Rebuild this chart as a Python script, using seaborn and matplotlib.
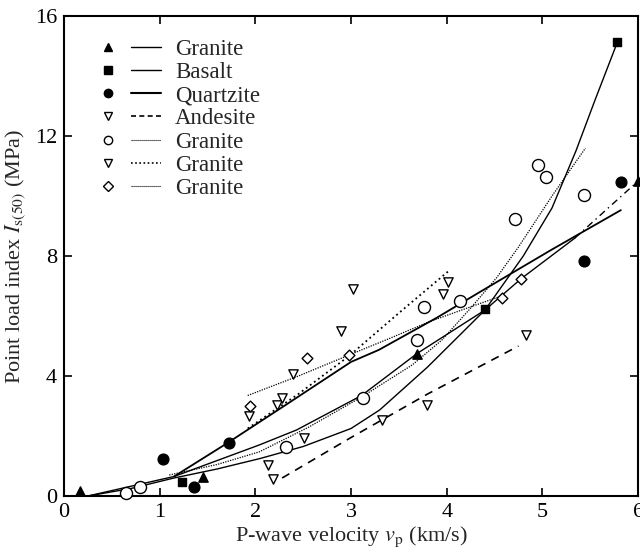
import matplotlib
matplotlib.use("Agg")
import matplotlib.pyplot as plt
import seaborn as sns
import pandas as pd
from matplotlib.lines import Line2D
from matplotlib.legend_handler import HandlerTuple

# ---------------- data ----------------
# measured points
granite_tri_x = [0.17, 1.45, 3.69, 6.0]
granite_tri_y = [0.15, 0.62, 4.75, 10.5]
basalt_x = [1.23, 4.40, 5.78]
basalt_y = [0.47, 6.23, 15.15]
quartzite_x = [1.03, 1.36, 1.72, 5.43, 5.82]
quartzite_y = [1.23, 0.30, 1.77, 7.83, 10.47]
andesite_x = [2.13, 2.18, 2.51, 3.32, 3.79, 4.83]
andesite_y = [1.03, 0.57, 1.93, 2.53, 3.03, 5.37]
granite_circ_x = [0.65, 0.79, 2.32, 3.12, 3.69, 3.76, 4.14, 4.71, 4.95, 5.04, 5.43]
granite_circ_y = [0.10, 0.30, 1.63, 3.27, 5.20, 6.30, 6.50, 9.23, 11.03, 10.63, 10.03]
granite_vtri_x = [1.93, 2.23, 2.28, 2.39, 2.90, 3.02, 3.96, 4.01]
granite_vtri_y = [2.67, 3.03, 3.27, 4.07, 5.50, 6.90, 6.72, 7.13]
granite_dia_x = [1.94, 2.54, 2.98, 4.58, 4.78]
granite_dia_y = [3.00, 4.60, 4.70, 6.60, 7.23]

# fitted curves
fit_granite_x = [0.25, 1.15, 2.04, 2.43, 3.11, 3.69, 4.40, 4.78, 5.34]
fit_granite_y = [0.00, 0.65, 1.70, 2.20, 3.35, 4.75, 6.20, 7.25, 8.60]
ext_granite_x = [5.34, 6.00]
ext_granite_y = [8.60, 10.50]
fit_basalt_x = [0.25, 0.70, 1.15, 1.60, 2.05, 2.50, 3.00, 3.30, 3.80, 4.40, 4.80, 5.10, 5.35, 5.55, 5.78]
fit_basalt_y = [0.00, 0.25, 0.60, 0.90, 1.25, 1.65, 2.25, 2.87, 4.30, 6.20, 8.00, 9.60, 11.50, 13.20, 15.10]
fit_quartz_x = [1.15, 1.70, 2.30, 3.00, 3.29, 3.90, 4.33, 5.09, 5.82]
fit_quartz_y = [0.65, 1.75, 3.00, 4.47, 4.87, 5.95, 6.77, 8.20, 9.53]
fit_andesite_x = [2.28, 3.00, 3.80, 4.75]
fit_andesite_y = [0.60, 1.95, 3.40, 5.00]
fit_circ_x = [1.10, 1.60, 2.04, 2.56, 3.11, 3.64, 3.95, 4.26, 4.52, 4.75, 5.10, 5.45]
fit_circ_y = [0.70, 1.05, 1.47, 2.30, 3.30, 4.37, 5.20, 6.30, 7.27, 8.30, 10.00, 11.60]
fit_vtri_x = [1.92, 2.45, 2.98, 3.50, 4.02]
fit_vtri_y = [2.25, 3.40, 4.67, 6.10, 7.50]
fit_dia_x = [1.92, 2.45, 2.98, 3.40, 3.81, 4.20, 4.60]
fit_dia_y = [3.35, 4.00, 4.70, 5.25, 5.80, 6.25, 6.70]

labels = ["Granite", "Basalt", "Quartzite", "Andesite", "Granite", "Granite", "Granite"]
x_ticks = [0, 1, 2, 3, 4, 5, 6]
y_ticks = [0, 4, 8, 12, 16]

# ---------------- style ----------------
sns.set_theme(style="ticks")
plt.rcParams["font.family"] = ["Liberation Serif", "DejaVu Serif"]
plt.rcParams["mathtext.fontset"] = "stix"
FS = 16

fig = plt.figure(figsize=(6.4, 5.6), dpi=100)
ax = fig.add_axes([0.1, 0.1143, 0.897, 0.857])

def curve(x, y, **kw):
    sns.lineplot(data=pd.DataFrame({"x": x, "y": y}), x="x", y="y", ax=ax,
                 color="black", estimator=None, sort=False, legend=False, **kw)

def pts(x, y, marker, size, filled=True, **kw):
    sns.scatterplot(data=pd.DataFrame({"x": x, "y": y}), x="x", y="y", ax=ax,
                    marker=marker, s=size,
                    facecolor="black" if filled else "white",
                    edgecolor="black", linewidth=1.0, legend=False, zorder=5,
                    clip_on=False, **kw)

lw = 1.0
curve(fit_granite_x, fit_granite_y, linewidth=lw)
curve(ext_granite_x, ext_granite_y, linewidth=lw, linestyle=(0, (5, 3, 1, 3)))
curve(fit_basalt_x, fit_basalt_y, linewidth=lw)
curve(fit_quartz_x, fit_quartz_y, linewidth=1.3)
curve(fit_andesite_x, fit_andesite_y, linewidth=1.2, linestyle=(0, (5, 4)))
curve(fit_circ_x, fit_circ_y, linewidth=0.9, linestyle=(0, (1, 1)))
curve(fit_vtri_x, fit_vtri_y, linewidth=1.3, linestyle=(0, (1, 1.8)))
curve(fit_dia_x, fit_dia_y, linewidth=0.9, linestyle=(0, (1, 1)))

pts(granite_tri_x, granite_tri_y, "^", 45)
pts(basalt_x, basalt_y, "s", 40)
pts(quartzite_x, quartzite_y, "o", 60)
pts(andesite_x, andesite_y, "v", 45, filled=False)
pts(granite_circ_x, granite_circ_y, "o", 75, filled=False)
pts(granite_vtri_x, granite_vtri_y, "v", 45, filled=False)
pts(granite_dia_x, granite_dia_y, "D", 30, filled=False)

ax.set_xlim(0, 6)
ax.set_ylim(0, 16)
ax.set_xticks(x_ticks)
ax.set_yticks(y_ticks)
ax.tick_params(direction="in", length=6, width=1.2, top=True, right=True,
               labelsize=FS, pad=5, colors="black")
for s in ax.spines.values():
    s.set_linewidth(1.5)
    s.set_color("black")
ax.set_xlabel(r"P-wave velocity $v_{\mathrm{p}}$ (km/s)", fontsize=FS, labelpad=2)
ax.set_ylabel(r"Point load index $I_{\mathrm{s(50)}}$ (MPa)", fontsize=FS, labelpad=5)

# legend: marker then line sample
mk = [("^", True), ("s", True), ("o", True), ("v", False), ("o", False), ("v", False), ("D", False)]
ls = ["-", "-", "-", (0, (3, 2)), (0, (1, 0.8)), (0, (1, 1.5)), (0, (1, 0.8))]
lws = [1.0, 1.0, 1.5, 1.2, 0.8, 1.2, 0.8]
handles = []
for (m, f), l, w in zip(mk, ls, lws):
    h1 = Line2D([], [], marker=m, linestyle="none", markersize=6 if m != "D" else 5,
                markerfacecolor="black" if f else "white", markeredgecolor="black",
                markeredgewidth=1.0)
    h2 = Line2D([], [], color="black", linestyle=l, linewidth=w)
    handles.append((h1, h2))
leg = ax.legend(handles, labels, handler_map={tuple: HandlerTuple(ndivide=None, pad=0.3)},
                loc="upper left", bbox_to_anchor=(0.05, 0.952), frameon=False,
                fontsize=16.5, handlelength=3.0, handletextpad=0.6, labelspacing=0.09,
                borderaxespad=0, borderpad=0)

fig.savefig("out.png", dpi=100)
